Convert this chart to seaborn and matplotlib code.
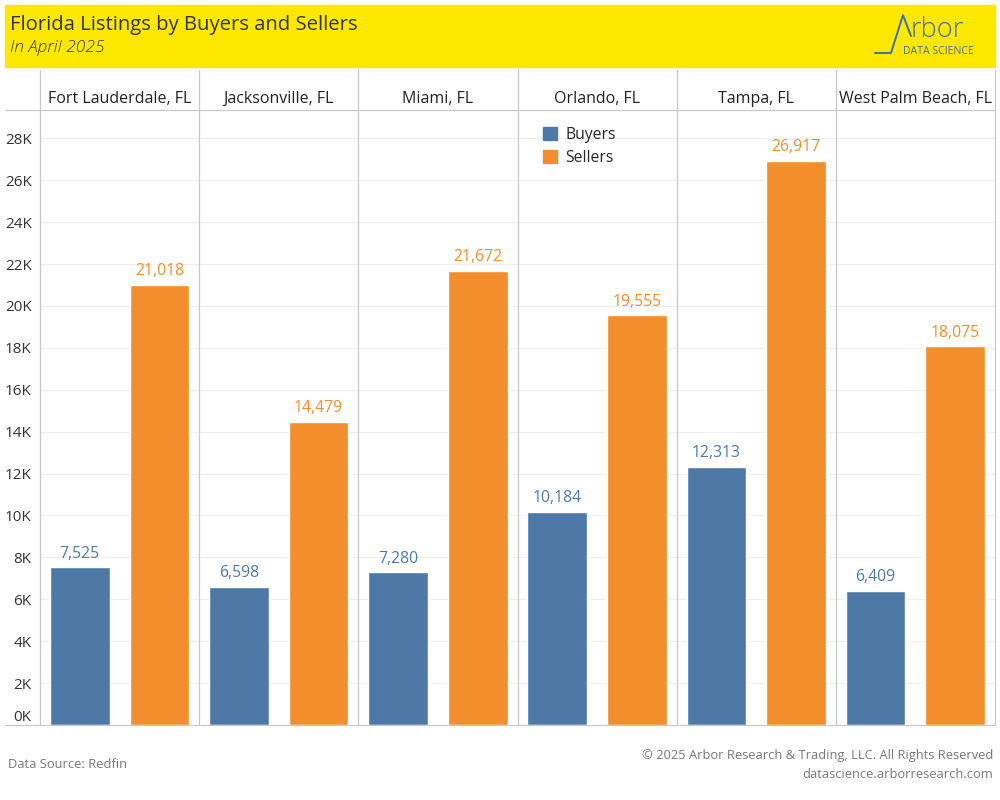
import matplotlib
matplotlib.use("Agg")
import matplotlib.pyplot as plt
import matplotlib.patches as mpatches
from matplotlib.lines import Line2D
import seaborn as sns
import pandas as pd

cities = ["Fort Lauderdale, FL", "Jacksonville, FL", "Miami, FL",
          "Orlando, FL", "Tampa, FL", "West Palm Beach, FL"]
buyers = [7525, 6598, 7280, 10184, 12313, 6409]
sellers = [21018, 14479, 21672, 19555, 26917, 18075]
series = ["Buyers", "Sellers"]
y_ticks = list(range(0, 28001, 2000))

blue = "#4e79a7"
orange = "#f28e2b"
line_col = "#c8c8c8"

df = pd.DataFrame({"city": cities * 2,
                   "count": buyers + sellers,
                   "type": ["Buyers"] * len(cities) + ["Sellers"] * len(cities)})

sns.set_style("white")
plt.rcParams["font.family"] = ["Open Sans", "DejaVu Sans"]

W, H = 1000, 800
fig = plt.figure(figsize=(10, 8), dpi=100)


def fx(x):
    return x / W


def fy(y):
    return 1 - y / H


# yellow banner
fig.patches.append(mpatches.Rectangle((fx(5), fy(67)), fx(990), 62 / H,
                                      transform=fig.transFigure, color="#ffe800", zorder=0))
fig.text(fx(10), fy(25), "Florida Listings by Buyers and Sellers", fontsize=14.6,
         color="#333333", va="center", ha="left", fontweight="medium")
fig.text(fx(10), fy(48), "In April 2025", fontsize=12.5, color="#333333",
         va="center", ha="left", style="italic", fontweight="light")

# logo
fig.lines.append(Line2D([fx(875), fx(891), fx(903), fx(911)],
                        [fy(53), fy(53), fy(15), fy(36)],
                        transform=fig.transFigure, color="#3f6fa8", lw=1.4))
fig.text(fx(911), fy(37), "rbor", fontsize=19.5, color="#3f6fa8", va="baseline",
         ha="left", fontweight="light")
fig.text(fx(903), fy(51), "DATA SCIENCE", fontsize=7.6, color="#3f6fa8", va="center", ha="left")

# main axes
ax = fig.add_axes([fx(40), fy(725), fx(955), (725 - 110) / H])
sns.barplot(data=df, x="city", y="count", hue="type", palette=[blue, orange],
            width=1.0, gap=0.25, ax=ax, legend=False, saturation=1)
ax.set_xlim(-0.5, len(cities) - 0.5)
ax.set_ylim(0, 29350)
ax.set_xlabel("")
ax.set_ylabel("")
ax.set_xticks([])
ax.set_yticks(y_ticks)
labels = ax.set_yticklabels([f"{v // 1000}K" for v in y_ticks], fontsize=11, color="#333333")
labels[0].set_va("bottom")
ax.tick_params(axis="y", length=0, pad=6)
ax.grid(axis="y", color="#efefef", lw=0.8)
ax.set_axisbelow(True)
for s in ax.spines.values():
    s.set_visible(False)

for cont, col in zip(ax.containers, [blue, orange]):
    ax.bar_label(cont, labels=[f"{int(v):,}" for v in cont.datavalues],
                 padding=4, fontsize=11.3, color=col)

# header row with city names
hax = fig.add_axes([fx(40), fy(110), fx(955), 40 / H])
hax.set_xlim(-0.5, len(cities) - 0.5)
hax.set_ylim(0, 1)
hax.axis("off")
for i, c in enumerate(cities):
    hax.text(i, 0.27, c, ha="center", va="center", fontsize=11.5, color="#222222")

# panel dividers and frame lines
for i in range(len(cities) + 1):
    x = 40 + i * 955 / len(cities)
    fig.lines.append(Line2D([fx(x), fx(x)], [fy(70), fy(725)],
                            transform=fig.transFigure, color=line_col, lw=0.9))
for y in (110, 725):
    fig.lines.append(Line2D([fx(5), fx(995)], [fy(y), fy(y)],
                            transform=fig.transFigure, color=line_col, lw=0.9))

# legend
handles = [mpatches.Patch(color=blue, label=series[0]),
           mpatches.Patch(color=orange, label=series[1])]
fig.legend(handles=handles, loc="upper left", bbox_to_anchor=(fx(537), fy(121)),
           frameon=False, fontsize=11.3, handlelength=0.9, handleheight=0.9,
           handletextpad=0.5, labelspacing=0.42, borderaxespad=0)

# footer
fig.text(fx(8), fy(765), "Data Source: Redfin", fontsize=9.3, color="#777777", va="center")
fig.text(fx(993), fy(756), "\u00a9 2025 Arbor Research & Trading, LLC. All Rights Reserved",
         fontsize=9.3, color="#777777", va="center", ha="right")
fig.text(fx(993), fy(774), "datascience.arborresearch.com", fontsize=9.3,
         color="#777777", va="center", ha="right")

fig.savefig("out.png", dpi=100)
